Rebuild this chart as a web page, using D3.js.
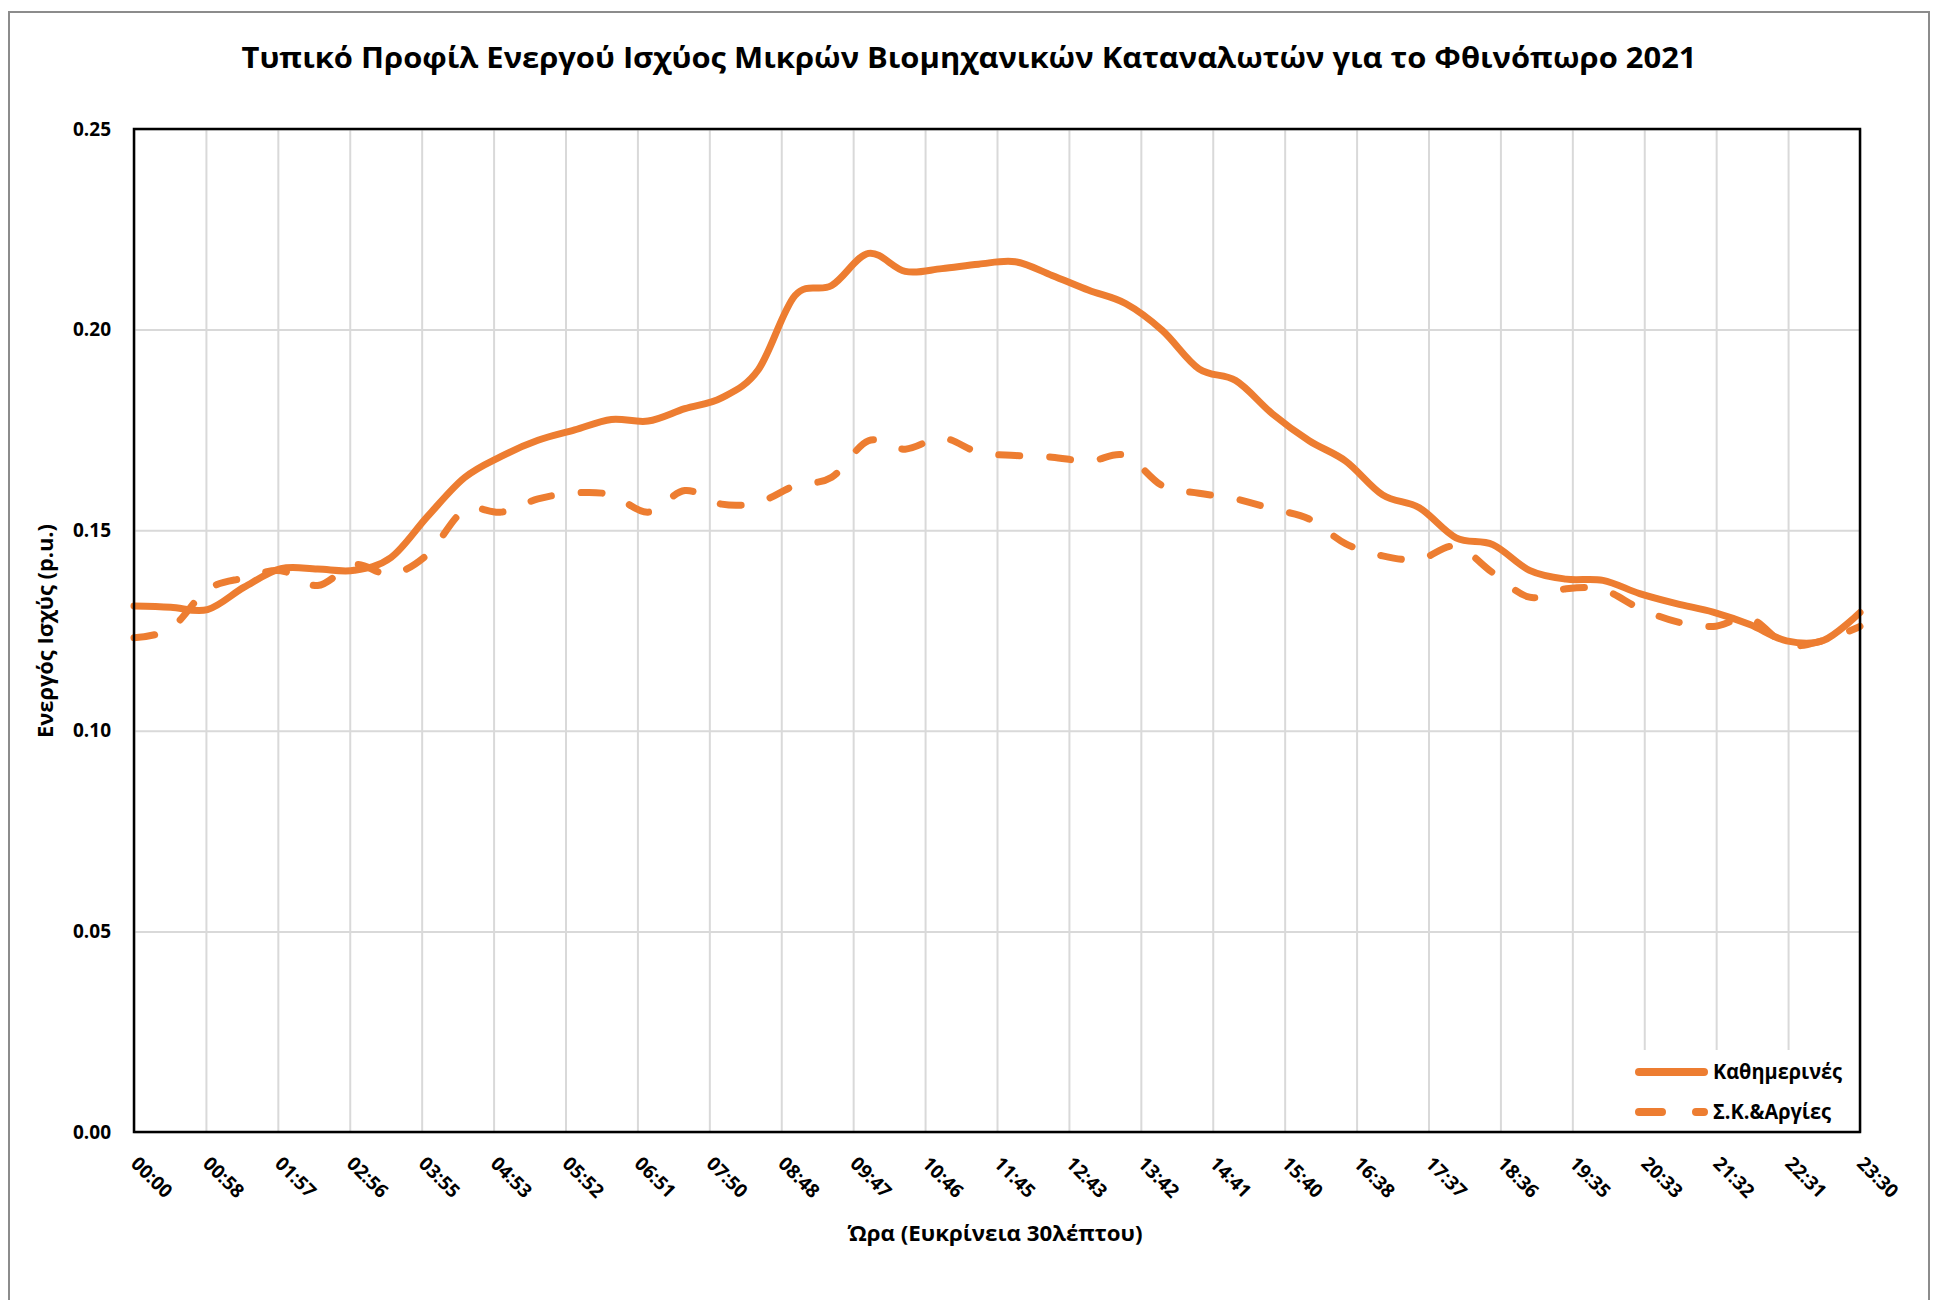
<!DOCTYPE html>
<html>
<head>
<meta charset="utf-8">
<script src="https://cdn.jsdelivr.net/npm/d3@7/dist/d3.min.js"></script>
<style>
  body { margin: 0; background: #fff; }
  text { font-family: "Open Sans", "Noto Sans", sans-serif; font-weight: bold; fill: #000; }
</style>
</head>
<body>
<svg id="chart" width="1941" height="1300"></svg>
<script>
// half-hour timestamps
const times = ["00:00","00:30","01:00","01:30","02:00","02:30","03:00","03:30","04:00","04:30",
  "05:00","05:30","06:00","06:30","07:00","07:30","08:00","08:30","09:00","09:30",
  "10:00","10:30","11:00","11:30","12:00","12:30","13:00","13:30","14:00","14:30",
  "15:00","15:30","16:00","16:30","17:00","17:30","18:00","18:30","19:00","19:30",
  "20:00","20:30","21:00","21:30","22:00","22:30","23:00","23:30"];

// Καθημερινές (p.u.)
const weekdays = [0.1311,0.1308,0.1302,0.1358,0.1404,0.1403,0.1400,0.1432,0.1535,0.1631,
  0.1684,0.1724,0.1750,0.1776,0.1772,0.1803,0.1830,0.1900,0.2085,0.2110,
  0.2190,0.2145,0.2152,0.2163,0.2169,0.2135,0.2098,0.2065,0.1998,0.1902,
  0.1873,0.1790,0.1723,0.1672,0.1588,0.1556,0.1481,0.1464,0.1400,0.1378,
  0.1375,0.1342,0.1317,0.1296,0.1265,0.1224,0.1225,0.1295];

// Σ.Κ.&Αργίες (p.u.)
const holidays = [0.1232,0.1255,0.1352,0.1381,0.1399,0.1362,0.1414,0.1390,0.1440,0.1550,
  0.1545,0.1578,0.1593,0.1588,0.1545,0.1599,0.1565,0.1569,0.1611,0.1632,
  0.1723,0.1702,0.1730,0.1694,0.1686,0.1682,0.1672,0.1686,0.1611,0.1592,
  0.1578,0.1553,0.1528,0.1466,0.1436,0.1427,0.1460,0.1394,0.1333,0.1354,
  0.1352,0.1305,0.1272,0.1260,0.1280,0.1215,0.1225,0.1260];

const tickLabels = ["00:00","00:58","01:57","02:56","03:55","04:53","05:52","06:51","07:50",
  "08:48","09:47","10:46","11:45","12:43","13:42","14:41","15:40","16:38","17:37",
  "18:36","19:35","20:33","21:32","22:31","23:30"];
const yTicks = [0, 0.05, 0.10, 0.15, 0.20, 0.25];
const seriesNames = ["Καθημερινές", "Σ.Κ.&Αργίες"];

const W = 1941, H = 1300;
const margin = { left: 134, right: 81, top: 129, bottom: 168 };
const pw = W - margin.left - margin.right;
const ph = H - margin.top - margin.bottom;
const orange = "#ED7D31";

const toMin = s => { const [h, m] = s.split(":").map(Number); return h * 60 + m; };

const svg = d3.select("#chart");
svg.append("rect").attr("width", W).attr("height", H).attr("fill", "#fff");

// outer chart frame
svg.append("rect")
  .attr("x", 9).attr("y", 12).attr("width", 1920).attr("height", H)
  .attr("fill", "none").attr("stroke", "#8c8c8c").attr("stroke-width", 2);

const x = d3.scaleLinear().domain([0, toMin(times[times.length - 1])]).range([0, pw]);
const xt = d3.scalePoint().domain(tickLabels).range([0, pw]);
const y = d3.scaleLinear().domain([0, 0.25]).range([ph, 0]);

const g = svg.append("g").attr("transform", `translate(${margin.left},${margin.top})`);

// gridlines
g.append("g")
  .attr("transform", `translate(0,${ph})`)
  .call(d3.axisBottom(xt).tickSize(-ph).tickFormat(""))
  .call(a => a.select(".domain").remove())
  .selectAll("line").attr("stroke", "#d9d9d9").attr("stroke-width", 2);

g.append("g")
  .call(d3.axisLeft(y).tickValues(yTicks).tickSize(-pw).tickFormat(""))
  .call(a => a.select(".domain").remove())
  .selectAll("line").attr("stroke", "#d9d9d9").attr("stroke-width", 2);

// legend background hides gridlines
const legX = 1618 - margin.left, legY = 1050 - margin.top;
g.append("rect")
  .attr("x", legX).attr("y", legY)
  .attr("width", pw - legX).attr("height", ph - legY)
  .attr("fill", "#fff");

// series
const line = d3.line()
  .x((d, i) => x(toMin(times[i])))
  .y(d => y(d))
  .curve(d3.curveCardinal.tension(0));

g.append("path").datum(holidays)
  .attr("d", line).attr("fill", "none")
  .attr("stroke", orange).attr("stroke-width", 7)
  .attr("stroke-linecap", "round").attr("stroke-linejoin", "round")
  .attr("stroke-dasharray", "21,30");

g.append("path").datum(weekdays)
  .attr("d", line).attr("fill", "none")
  .attr("stroke", orange).attr("stroke-width", 7)
  .attr("stroke-linecap", "round").attr("stroke-linejoin", "round");

// plot frame
g.append("rect")
  .attr("width", pw).attr("height", ph)
  .attr("fill", "none").attr("stroke", "#000").attr("stroke-width", 2.5);

// y axis labels
g.append("g")
  .call(d3.axisLeft(y).tickValues(yTicks).tickFormat(d3.format(".2f")).tickSize(0).tickPadding(23))
  .call(a => a.select(".domain").remove())
  .selectAll("text")
  .style("font-size", "19px");

// x axis labels, rotated
g.append("g")
  .attr("transform", `translate(0,${ph})`)
  .call(d3.axisBottom(xt).tickSize(0))
  .call(a => a.select(".domain").remove())
  .selectAll("text")
  .attr("x", 0).attr("y", 0).attr("dy", "0.35em")
  .attr("transform", "translate(0,28) rotate(45)")
  .style("text-anchor", "start")
  .style("font-size", "19px");

svg.selectAll(".tick text").attr("font-family", null);

// title
svg.append("text")
  .attr("x", 969).attr("y", 68)
  .attr("text-anchor", "middle")
  .style("font-size", "28px")
  .attr("textLength", 1455).attr("lengthAdjust", "spacingAndGlyphs")
  .text("Τυπικό Προφίλ Ενεργού Ισχύος Μικρών Βιομηχανικών Καταναλωτών για το Φθινόπωρο 2021");

// axis titles
svg.append("text")
  .attr("x", 995).attr("y", 1241)
  .attr("text-anchor", "middle")
  .style("font-size", "21px")
  .attr("textLength", 295).attr("lengthAdjust", "spacingAndGlyphs")
  .text("Ώρα (Ευκρίνεια 30λέπτου)");

svg.append("text")
  .attr("transform", "translate(53,631) rotate(-90)")
  .attr("text-anchor", "middle")
  .style("font-size", "21px")
  .attr("textLength", 214).attr("lengthAdjust", "spacingAndGlyphs")
  .text("Ενεργός Ισχύς (p.u.)");

// legend
const legend = svg.append("g");
const legRows = [
  { name: seriesNames[0], dash: null, y: 1072, w: 129 },
  { name: seriesNames[1], dash: "23,34", y: 1112, w: 118 }
];
legRows.forEach(r => {
  legend.append("line")
    .attr("x1", 1639).attr("x2", 1704).attr("y1", r.y).attr("y2", r.y)
    .attr("stroke", orange).attr("stroke-width", 8)
    .attr("stroke-linecap", "round")
    .attr("stroke-dasharray", r.dash);
  legend.append("text")
    .attr("x", 1713).attr("y", r.y + 7)
    .style("font-size", "21px")
    .attr("textLength", r.w).attr("lengthAdjust", "spacingAndGlyphs")
    .text(r.name);
});
</script>
</body>
</html>
